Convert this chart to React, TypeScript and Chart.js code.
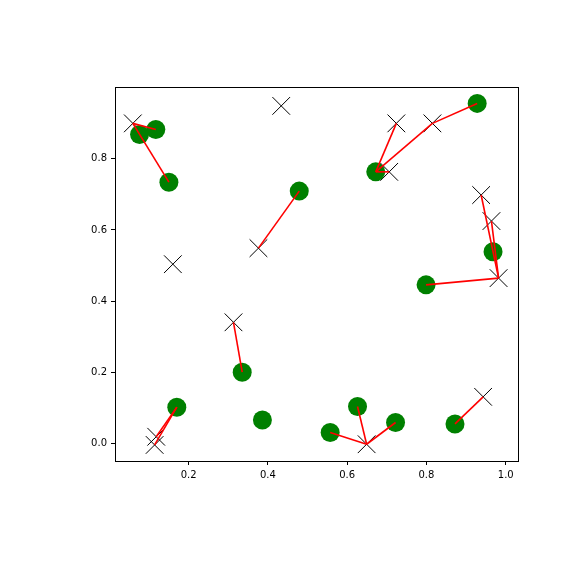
import React, { useEffect, useRef } from "react";
import { Chart, registerables } from "chart.js";

Chart.register(...registerables);

// Green circles
const greenX = [0.076, 0.117, 0.150, 0.479, 0.928, 0.672, 0.968, 0.799, 0.170, 0.335, 0.386, 0.557, 0.626, 0.722, 0.872];
const greenY = [0.868, 0.882, 0.734, 0.709, 0.955, 0.763, 0.539, 0.446, 0.103, 0.201, 0.067, 0.032, 0.105, 0.060, 0.056];

// Black crosses
const crossX = [0.059, 0.4335, 0.160, 0.376, 0.724, 0.815, 0.706, 0.938, 0.964, 0.982, 0.313, 0.118, 0.114, 0.649, 0.943];
const crossY = [0.899, 0.948, 0.504, 0.549, 0.899, 0.899, 0.763, 0.698, 0.625, 0.465, 0.341, 0.020, -0.003, -0.001, 0.132];

// Red links: [from, to], "g" = green index, "c" = cross index
const links: [string, string][] = [
  ["c0", "g1"], ["c0", "g2"], ["c3", "g3"], ["g4", "c5"], ["c5", "g5"],
  ["c4", "g5"], ["g5", "c6"], ["c7", "c9"], ["c8", "c9"], ["c9", "g7"],
  ["c10", "g9"], ["g8", "c11"], ["g8", "c12"], ["g11", "c13"], ["g12", "c13"],
  ["g13", "c13"], ["g14", "c14"],
];

const xTicks = [0.2, 0.4, 0.6, 0.8, 1.0];
const yTicks = [0.0, 0.2, 0.4, 0.6, 0.8];
const xRange = [0.014, 1.031];
const yRange = [-0.048, 1.001];

function pt(id: string) {
  const i = parseInt(id.slice(1), 10);
  return id[0] === "g" ? { x: greenX[i], y: greenY[i] } : { x: crossX[i], y: crossY[i] };
}

const framePlugin = {
  id: "frame",
  afterDraw(chart: any) {
    const { ctx, chartArea } = chart;
    ctx.save();
    ctx.strokeStyle = "#000";
    ctx.lineWidth = 1;
    ctx.strokeRect(
      Math.round(chartArea.left) + 0.5,
      Math.round(chartArea.top) + 0.5,
      Math.round(chartArea.right - chartArea.left),
      Math.round(chartArea.bottom - chartArea.top)
    );
    ctx.restore();
  },
};

export default function App() {
  const ref = useRef<HTMLCanvasElement>(null);
  useEffect(() => {
    if (!ref.current) return;
    const font = { family: "DejaVu Sans", size: 10 };
    const linkSets = links.map(([a, b]) => ({
      type: "line" as const,
      data: [pt(a), pt(b)],
      borderColor: "#ff0000",
      borderWidth: 1.6,
      pointRadius: 0,
      showLine: true,
      fill: false,
      order: 0,
    }));
    const chart = new Chart(ref.current, {
      type: "scatter",
      data: {
        datasets: [
          ...linkSets,
          {
            data: greenX.map((x, i) => ({ x, y: greenY[i] })),
            backgroundColor: "#008000",
            borderColor: "#008000",
            borderWidth: 0,
            pointRadius: 9.5,
            pointHoverRadius: 9.5,
            order: 1,
          },
          {
            data: crossX.map((x, i) => ({ x, y: crossY[i] })),
            pointStyle: "crossRot",
            borderColor: "#000",
            backgroundColor: "#000",
            borderWidth: 1,
            pointRadius: 12.5,
            pointHoverRadius: 12.5,
            order: 2,
          },
        ] as any,
      },
      options: {
        responsive: false,
        animation: false,
        layout: { padding: { top: 87, right: 58, left: 0, bottom: 0 } },
        plugins: { legend: { display: false }, tooltip: { enabled: false } },
        scales: {
          x: {
            type: "linear",
            min: xRange[0],
            max: xRange[1],
            afterBuildTicks: (s: any) => {
              s.ticks = xTicks.map((v) => ({ value: v }));
            },
            afterFit: (s: any) => {
              s.height = 115;
            },
            ticks: {
              callback: (v: any) => Number(v).toFixed(1),
              font,
              color: "#000",
              padding: 4,
              maxRotation: 0,
              autoSkip: false,
            },
            grid: { drawOnChartArea: false, drawTicks: true, tickLength: 4, tickColor: "#000", tickWidth: 1 },
            border: { display: true, color: "#000", width: 1 },
          },
          y: {
            type: "linear",
            min: yRange[0],
            max: yRange[1],
            afterBuildTicks: (s: any) => {
              s.ticks = yTicks.map((v) => ({ value: v }));
            },
            afterFit: (s: any) => {
              s.width = 115;
            },
            ticks: {
              callback: (v: any) => Number(v).toFixed(1),
              font,
              color: "#000",
              padding: 4,
              autoSkip: false,
            },
            grid: { drawOnChartArea: false, drawTicks: true, tickLength: 4, tickColor: "#000", tickWidth: 1 },
            border: { display: true, color: "#000", width: 1 },
          },
        },
      },
      plugins: [framePlugin],
    });
    return () => chart.destroy();
  }, []);
  return (
    <div style={{ position: "fixed", left: 0, top: 0, width: 576, height: 576, background: "#fff" }}>
      <canvas ref={ref} width={576} height={576} />
    </div>
  );
}
